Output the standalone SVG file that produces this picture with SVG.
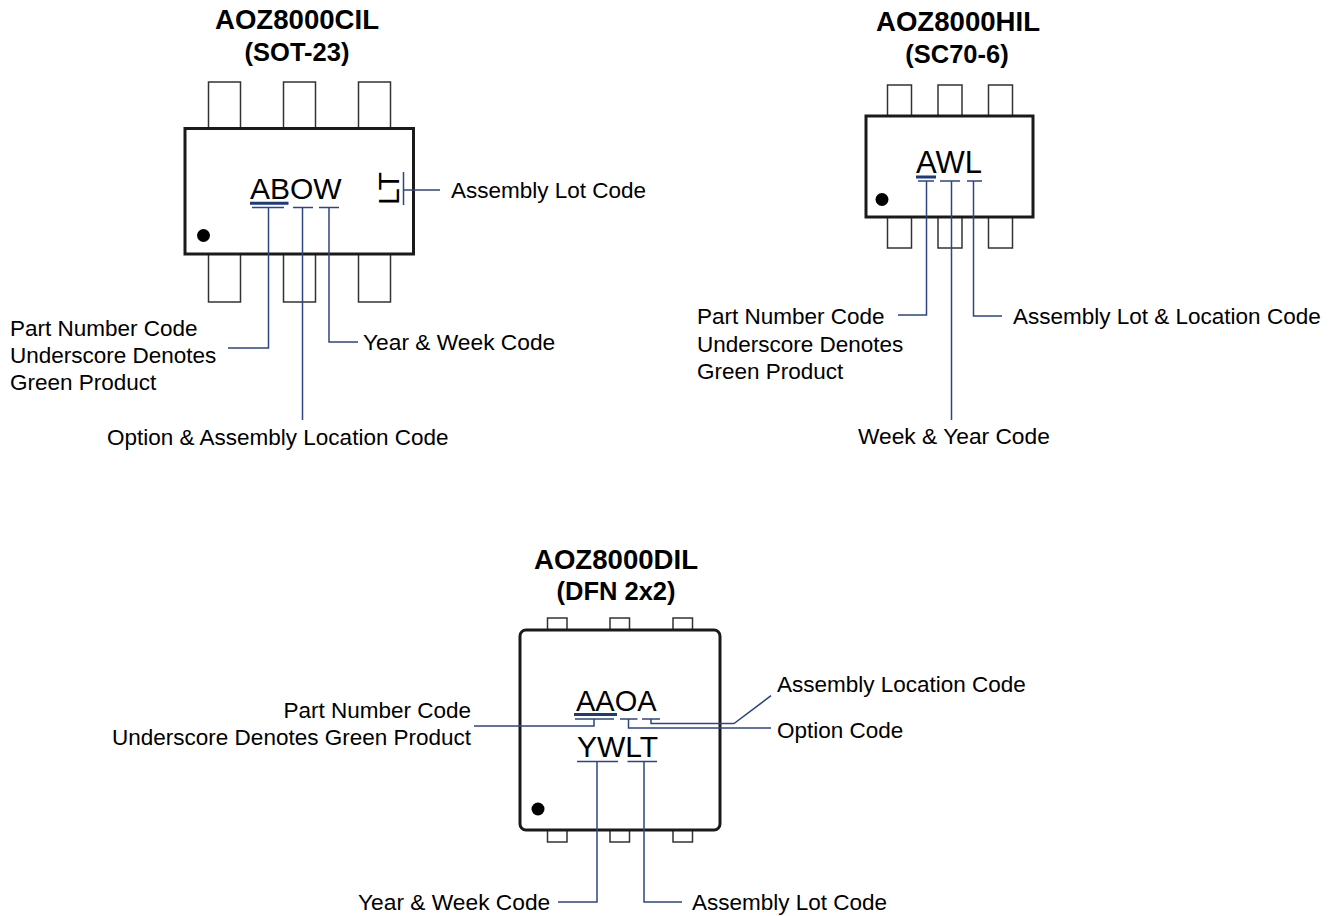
<svg xmlns="http://www.w3.org/2000/svg" width="1335" height="916" viewBox="0 0 1335 916">
<style>
text{font-family:"Liberation Sans",Arial,sans-serif;fill:#000}
.t{font-size:27.6px;font-weight:bold;text-anchor:middle}
.s{font-size:25.5px;font-weight:bold;text-anchor:middle}
.l{font-size:22.5px}
.w{font-size:22.75px}
.m{font-size:30px}
.b{fill:#fff;stroke:#1a1a1a;stroke-width:3}
.p{fill:#fff;stroke:#333;stroke-width:1.5}
.c{fill:none;stroke:#2f4580;stroke-width:1.5}
.u{fill:none;stroke:#1f3a7a;stroke-width:3}
</style>
<rect width="1335" height="916" fill="#fff"/>
<g id="sot23">
<text class="t" x="297" y="28.500">AOZ8000CIL</text>
<text class="s" x="297" y="61">(SOT-23)</text>
<rect class="p" x="208.500" y="82" width="32" height="46"/>
<rect class="p" x="283.500" y="82" width="32" height="46"/>
<rect class="p" x="358.500" y="82" width="32" height="46"/>
<rect class="p" x="208.500" y="254" width="32" height="48"/>
<rect class="p" x="283.500" y="254" width="32" height="48"/>
<rect class="p" x="358.500" y="254" width="32" height="48"/>
<rect class="b" x="185" y="128.500" width="228.500" height="125.500"/>
<circle cx="203.500" cy="235.500" r="6.500"/>
<text class="m" x="250" y="199">ABOW</text>
<text class="m" textLength="33" lengthAdjust="spacingAndGlyphs" transform="translate(399 205) rotate(-90)">LT</text>
</g>
<g id="sc70">
<text class="t" x="958" y="30.500">AOZ8000HIL</text>
<text class="s" x="957" y="62.500">(SC70-6)</text>
<rect class="p" x="887.500" y="85" width="24" height="31"/>
<rect class="p" x="938" y="85" width="24" height="31"/>
<rect class="p" x="988.500" y="85" width="24" height="31"/>
<rect class="p" x="887.500" y="217" width="24" height="31"/>
<rect class="p" x="938" y="217" width="24" height="31"/>
<rect class="p" x="988.500" y="217" width="24" height="31"/>
<rect class="b" x="866" y="116" width="167" height="101"/>
<circle cx="882" cy="199.500" r="6.500"/>
<text class="m" style="font-size:31px" x="916" y="173">AWL</text>
</g>
<g id="dfn">
<text class="t" x="616" y="568.500">AOZ8000DIL</text>
<text class="s" x="616" y="600">(DFN 2x2)</text>
<rect class="p" x="547.500" y="618" width="19.500" height="12"/>
<rect class="p" x="610" y="618" width="19.500" height="12"/>
<rect class="p" x="673" y="618" width="19.500" height="12"/>
<rect class="p" x="547.500" y="830" width="19.500" height="12"/>
<rect class="p" x="610" y="830" width="19.500" height="12"/>
<rect class="p" x="673" y="830" width="19.500" height="12"/>
<rect class="b" x="520" y="630" width="200" height="200" rx="6"/>
<circle cx="538" cy="809" r="6.500"/>
<text class="m" style="font-size:29px" x="576" y="711">AAOA</text>
<text class="m" x="577" y="756.700">YWLT</text>
</g>
<g id="connectors">
<path class="u" d="M250 203.300H288.500M916 177H936M574 714.500H617"/>
<path class="c" d="M252 207.500H284M293 207.500H313M319 207.500H339M268.500 207.500V348H228M302.500 207.500V420M329 207.500V342H358M403.500 172V205M404 190H440"/>
<path class="c" d="M918 181H934M940 181H960M967 181H982M926.500 181V315H898M951.500 181V420M973.500 181V316H1002"/>
<path class="c" d="M575 719H614M620 719H637.500M642 719H660M474 726H594V719M651 719V723.500H734L771 695.700M628.500 719V728H771M577 761.500H618M627.500 761.500H657M597 761.500V902H558M644 761.500V902H682"/>
</g>
<g id="labels">
<text class="l" x="451" y="198">Assembly Lot Code</text>
<text class="l" x="10" y="336">Part Number Code</text>
<text class="l" x="10" y="363">Underscore Denotes</text>
<text class="l" x="10" y="390">Green Product</text>
<text class="w" x="363" y="350">Year &amp; Week Code</text>
<text class="l" x="107" y="445">Option &amp; Assembly Location Code</text>
<text class="l" x="697" y="324">Part Number Code</text>
<text class="l" x="697" y="352">Underscore Denotes</text>
<text class="l" x="697" y="379">Green Product</text>
<text class="l" x="1013" y="324">Assembly Lot &amp; Location Code</text>
<text class="w" x="858" y="444">Week &amp; Year Code</text>
<text class="l" x="471" y="718" text-anchor="end">Part Number Code</text>
<text class="l" x="471" y="745" text-anchor="end">Underscore Denotes Green Product</text>
<text class="l" x="777" y="692">Assembly Location Code</text>
<text class="l" x="777" y="738">Option Code</text>
<text class="w" x="358" y="910">Year &amp; Week Code</text>
<text class="l" x="692" y="910">Assembly Lot Code</text>
</g>
</svg>
